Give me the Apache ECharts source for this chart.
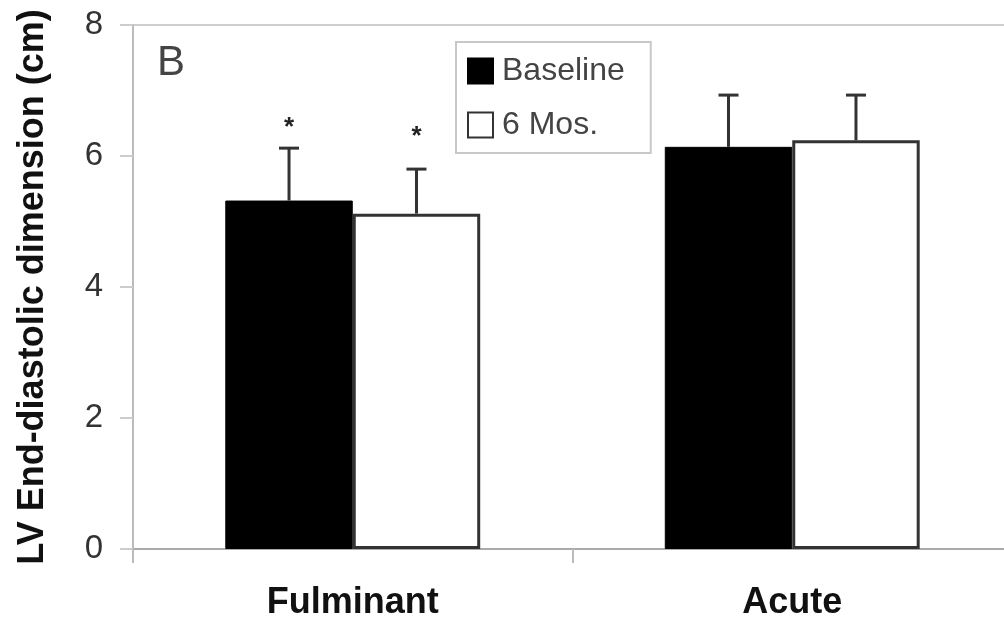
<!DOCTYPE html>
<html>
<head>
<meta charset="utf-8">
<script src="https://cdn.jsdelivr.net/npm/echarts@6/dist/echarts.min.js"></script>
<style>
  html, body { margin: 0; padding: 0; background: #fff; }
  #main { width: 1004px; height: 626px; }
</style>
</head>
<body>
<div id="main"></div>
<script>
// values (cm)
const categories = ['Fulminant', 'Acute'];
const baseline = [5.32, 6.14];
const baselineErr = [0.80, 0.79];
const sixMos = [5.12, 6.24];
const sixMosErr = [0.68, 0.69];
const signif = ['*', ''];          // significance marks per category
const yTicks = [0, 2, 4, 6, 8];

const BAR_SHARE = 0.58;            // 1 - barCategoryGap

let chart = echarts.init(document.getElementById('main'));

// one-sided (upward) error bar + optional asterisk
function errorBar(side, markGap) {
    return function (params, api) {
        const cat = api.value(0);
        const val = api.value(1);
        const err = api.value(2);
        const mark = signif[cat];
        const band = api.size([1, 0])[0];
        const bw = band * BAR_SHARE / 2;
        const c = api.coord([cat, val]);
        const x = c[0] + side * bw / 2;
        const yBot = c[1];
        const yTop = api.coord([cat, val + err])[1];
        const style = { stroke: '#333', lineWidth: 3 };
        const kids = [
            { type: 'line', shape: { x1: x, y1: yBot, x2: x, y2: yTop }, style: style },
            { type: 'line', shape: { x1: x - 10, y1: yTop, x2: x + 10, y2: yTop }, style: style }
        ];
        if (mark) {
            kids.push({
                type: 'text',
                style: {
                    text: mark, x: x, y: yTop - markGap,
                    align: 'center', verticalAlign: 'middle',
                    fontSize: 26, fontWeight: 'bold', fill: '#222',
                    fontFamily: 'Liberation Sans'
                }
            });
        }
        return { type: 'group', children: kids };
    };
}

let option = {
    animation: false,
    backgroundColor: '#fff',
    textStyle: { fontFamily: 'Liberation Sans' },
    grid: {
        left: 133, right: -8, top: 25, bottom: 77,
        outerBoundsMode: 'none', containLabel: false,
        show: true, borderColor: '#cfcfcf', borderWidth: 2
    },
    legend: {
        orient: 'vertical',
        left: 456, top: 42,
        data: ['Baseline', '6 Mos.'],
        icon: 'rect',
        itemWidth: 25, itemHeight: 25, itemGap: 22,
        backgroundColor: '#fff',
        borderColor: '#c8c8c8', borderWidth: 2,
        padding: [13, 26, 12, 11],
        textStyle: { fontSize: 32, color: '#444', padding: [0, 0, 0, 4] }
    },
    graphic: [{
        type: 'text', left: 157, top: 42,
        style: { text: 'B', fontSize: 42, fill: '#444', fontFamily: 'Liberation Sans' }
    }],
    xAxis: {
        type: 'category',
        data: categories,
        axisLine: { lineStyle: { color: '#aaa', width: 2 } },
        axisTick: { show: true, length: 14, lineStyle: { color: '#bbb', width: 2 } },
        axisLabel: { fontSize: 36, fontWeight: 'bold', color: '#111', margin: 36 }
    },
    yAxis: {
        type: 'value',
        min: 0, max: 8, interval: 2,
        name: 'LV End-diastolic dimension (cm)',
        nameLocation: 'middle',
        nameGap: 82,
        nameTextStyle: { fontSize: 36, fontWeight: 'bold', color: '#111' },
        axisLine: { show: true, lineStyle: { color: '#bbb', width: 2 } },
        axisTick: { show: true, length: 13, lineStyle: { color: '#ccc', width: 2 } },
        splitLine: { show: false },
        axisLabel: {
            fontSize: 33, color: '#333', margin: 30,
            formatter: v => yTicks.includes(v) ? String(v) : ''
        }
    },
    series: [
        {
            name: 'Baseline', type: 'bar',
            data: baseline,
            barGap: '0%', barCategoryGap: '42%',
            itemStyle: { color: '#000', borderColor: '#000', borderWidth: 1 }
        },
        {
            name: '6 Mos.', type: 'bar',
            data: sixMos,
            itemStyle: { color: '#fff', borderColor: '#333', borderWidth: 3 }
        },
        {
            type: 'custom', z: 5,
            renderItem: errorBar(-1, 20),
            encode: { x: 0, y: 1 },
            data: baseline.map((v, i) => [i, v, baselineErr[i]])
        },
        {
            type: 'custom', z: 5,
            renderItem: errorBar(1, 32),
            encode: { x: 0, y: 1 },
            data: sixMos.map((v, i) => [i, v, sixMosErr[i]])
        }
    ]
};

chart.setOption(option);
</script>
</body>
</html>
